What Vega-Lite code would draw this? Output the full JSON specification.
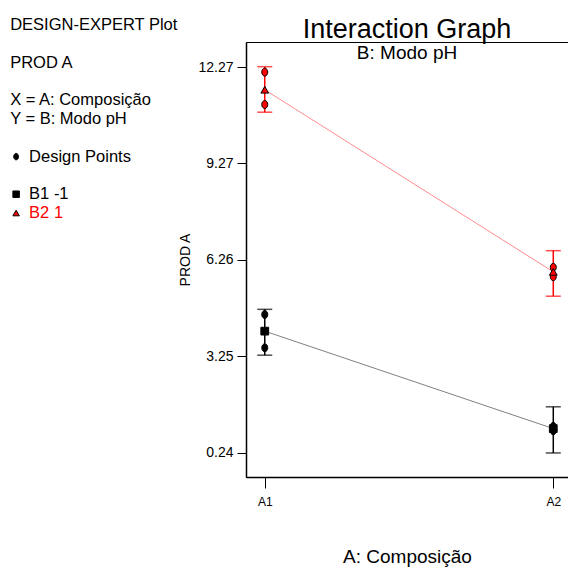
{
  "$schema": "https://vega.github.io/schema/vega-lite/v6.json",
  "width": 322,
  "height": 435,
  "autosize": "none",
  "padding": {"left": 246, "top": 42, "right": 0, "bottom": 92},
  "background": "white",
  "config": {
    "font": "Liberation Sans",
    "view": {"stroke": "#000000", "strokeWidth": 1},
    "axis": {"grid": false, "domainColor": "#000000", "domainWidth": 1.5, "tickColor": "#000000", "labelColor": "#000000", "titleColor": "#000000", "labelFont": "Liberation Sans", "titleFont": "Liberation Sans", "titleFontWeight": "normal"}
  },
  "title": {
    "text": "Interaction Graph",
    "subtitle": "B: Modo pH",
    "fontSize": 27,
    "fontWeight": "normal",
    "subtitleFontSize": 19,
    "subtitleColor": "#000000",
    "color": "#000000",
    "anchor": "middle",
    "offset": -47,
    "subtitlePadding": 0,
    "font": "Liberation Sans",
    "subtitleFont": "Liberation Sans"
  },
  "datasets": {
    "means": [
      {"A": 1, "B": "B1", "mean": 4.04, "lo": 3.29, "hi": 4.72},
      {"A": 2, "B": "B1", "mean": 1.0, "lo": 0.24, "hi": 1.68},
      {"A": 1, "B": "B2", "mean": 11.57, "lo": 10.87, "hi": 12.29},
      {"A": 2, "B": "B2", "mean": 5.89, "lo": 5.13, "hi": 6.55}
    ],
    "points": [
      {"A": 1, "B": "B1", "y": 4.56},
      {"A": 1, "B": "B1", "y": 3.52},
      {"A": 2, "B": "B1", "y": 1.07},
      {"A": 2, "B": "B1", "y": 0.93},
      {"A": 1, "B": "B2", "y": 12.12},
      {"A": 1, "B": "B2", "y": 11.11},
      {"A": 2, "B": "B2", "y": 6.03},
      {"A": 2, "B": "B2", "y": 5.74}
    ],
    "notes": [
      {"line": 0, "note": "DESIGN-EXPERT Plot", "kind": "head"},
      {"line": 2, "note": "PROD A", "kind": "head"},
      {"line": 4, "note": "X = A: Composição", "kind": "head"},
      {"line": 5, "note": "Y  = B: Modo pH", "kind": "head"},
      {"line": 7, "note": "Design Points", "kind": "design"},
      {"line": 9, "note": "B1 -1", "kind": "B1"},
      {"line": 10, "note": "B2 1", "kind": "B2"}
    ]
  },
  "resolve": {"scale": {"y": "independent", "shape": "independent", "fill": "independent", "color": "independent"}, "axis": {"y": "independent"}},
  "layer": [
    {
      "layer": [
        {
          "data": {"name": "means"},
          "mark": {"type": "line", "strokeWidth": 1},
          "encoding": {
            "x": {"field": "A", "type": "quantitative", "scale": {"domain": [0.935, 2.051], "nice": false, "zero": false},
              "axis": {"values": [1, 2], "labelExpr": "datum.value == 1 ? 'A1' : 'A2'", "tickSize": 11, "labelPadding": 8, "labelFontSize": 12, "title": "A: Composição", "titleFontSize": 19, "titlePadding": 40}},
            "y": {"field": "mean", "type": "quantitative", "scale": {"domain": [-0.51, 13.06], "nice": false, "zero": false},
              "axis": {"values": [0.24, 3.25, 6.26, 9.27, 12.27], "format": ".2f", "tickSize": 9, "labelPadding": 4, "labelFontSize": 14, "title": "PROD A", "titleFontSize": 14, "titlePadding": 5}},
            "stroke": {"field": "B", "type": "nominal", "scale": {"domain": ["B1", "B2"], "range": ["#808080", "#ff8c8c"]}, "legend": null}
          }
        },
        {
          "data": {"name": "means"},
          "mark": {"type": "rule", "strokeWidth": 1.5},
          "encoding": {
            "x": {"field": "A", "type": "quantitative"},
            "y": {"field": "lo", "type": "quantitative"},
            "y2": {"field": "hi"},
            "color": {"field": "B", "type": "nominal", "scale": {"domain": ["B1", "B2"], "range": ["#000000", "#ff0000"]}, "legend": null}
          }
        },
        {
          "data": {"name": "means"},
          "mark": {"type": "tick", "orient": "horizontal", "size": 15, "thickness": 1.5},
          "encoding": {
            "x": {"field": "A", "type": "quantitative"},
            "y": {"field": "lo", "type": "quantitative"},
            "color": {"field": "B", "type": "nominal", "legend": null}
          }
        },
        {
          "data": {"name": "means"},
          "mark": {"type": "tick", "orient": "horizontal", "size": 15, "thickness": 1.5},
          "encoding": {
            "x": {"field": "A", "type": "quantitative"},
            "y": {"field": "hi", "type": "quantitative"},
            "color": {"field": "B", "type": "nominal", "legend": null}
          }
        },
        {
          "data": {"name": "points"},
          "mark": {"type": "point", "filled": true, "shape": "M0,-1A0.75,1,0,1,1,0,1A0.75,1,0,1,1,0,-1Z", "size": 64, "stroke": "#000000", "strokeWidth": 1, "opacity": 1},
          "encoding": {
            "x": {"field": "A", "type": "quantitative"},
            "y": {"field": "y", "type": "quantitative"},
            "fill": {"field": "B", "type": "nominal", "scale": {"domain": ["B1", "B2"], "range": ["#000000", "#ff0000"]}, "legend": null}
          }
        },
        {
          "data": {"name": "means"},
          "mark": {"type": "point", "filled": true, "stroke": "#000000", "strokeWidth": 1, "opacity": 1, "size": 60},
          "encoding": {
            "x": {"field": "A", "type": "quantitative"},
            "y": {"field": "mean", "type": "quantitative"},
            "shape": {"field": "B", "type": "nominal", "scale": {"domain": ["B1", "B2"], "range": ["square", "triangle-up"]}, "legend": null},
            "fill": {"field": "B", "type": "nominal", "legend": null}
          }
        }
      ]
    },
    {
      "layer": [
        {
          "data": {"name": "notes"},
          "transform": [{"filter": "datum.kind == 'head'"}],
          "mark": {"type": "text", "align": "left", "baseline": "middle", "fontSize": 16.5, "color": "#000000"},
          "encoding": {
            "x": {"datum": 0.1175, "type": "quantitative"},
            "y": {"field": "line", "type": "quantitative", "scale": {"domain": [0.904, 24.04], "reverse": true, "nice": false, "zero": false}, "axis": null},
            "text": {"field": "note"}
          }
        },
        {
          "data": {"name": "notes"},
          "transform": [{"filter": "datum.kind != 'head'"}],
          "mark": {"type": "text", "align": "left", "baseline": "middle", "fontSize": 16.5},
          "encoding": {
            "x": {"datum": 0.1833, "type": "quantitative"},
            "y": {"field": "line", "type": "quantitative"},
            "text": {"field": "note"},
            "color": {"condition": {"test": "datum.kind == 'B2'", "value": "#ff0000"}, "value": "#000000"}
          }
        },
        {
          "data": {"name": "notes"},
          "transform": [{"filter": "datum.kind != 'head'"}],
          "mark": {"type": "point", "filled": true, "stroke": "#000000", "strokeWidth": 1, "opacity": 1, "size": 42},
          "encoding": {
            "x": {"datum": 0.1383, "type": "quantitative"},
            "y": {"field": "line", "type": "quantitative"},
            "shape": {"field": "kind", "type": "nominal", "scale": {"domain": ["design", "B1", "B2"], "range": ["M0,-1A0.75,1,0,1,1,0,1A0.75,1,0,1,1,0,-1Z", "square", "triangle-up"]}, "legend": null},
            "fill": {"field": "kind", "type": "nominal", "scale": {"domain": ["design", "B1", "B2"], "range": ["#000000", "#000000", "#ff0000"]}, "legend": null}
          }
        }
      ]
    }
  ]
}
